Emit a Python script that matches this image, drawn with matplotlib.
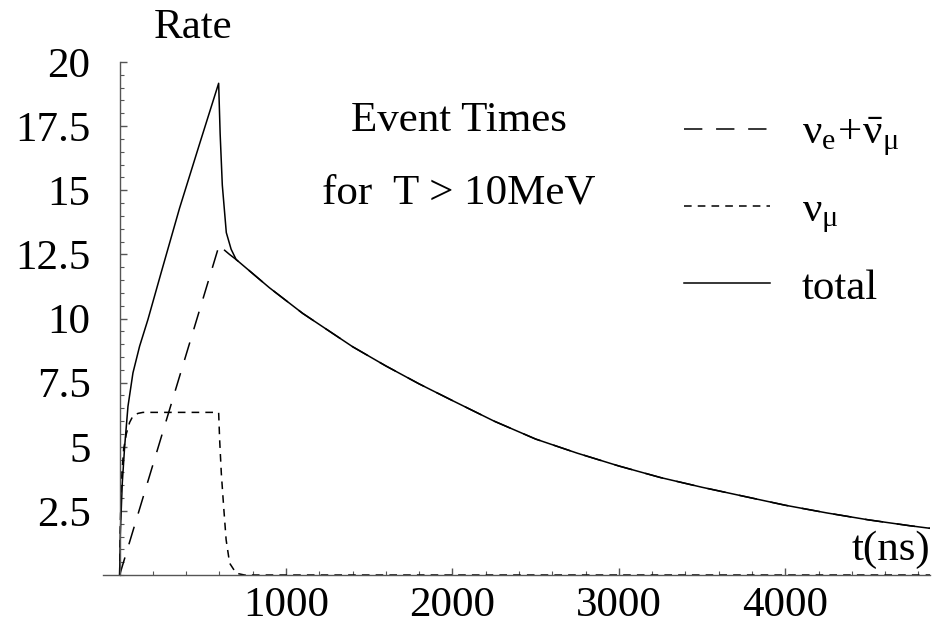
import matplotlib
matplotlib.use("Agg")
import matplotlib.pyplot as plt
from matplotlib.ticker import MultipleLocator, FixedLocator

# values (t in ns, rate)
t_total_rise = [0, 4, 16, 30, 50, 80, 120, 170, 250, 360, 480, 595, 604, 617, 641, 670]
rate_total_rise = [0, 1.6, 3.6, 5.0, 6.57, 7.88, 8.92, 9.96, 11.8, 14.3, 16.8, 19.17, 17.2, 15.2, 13.35, 12.7]

t_e_rise = [0, 600, 620, 660]
rate_e_rise = [0, 12.9, 12.72, 12.5]

t_decay = [700, 800, 900, 1000, 1100, 1250, 1400, 1600, 1800, 2000, 2250, 2500,
           2750, 3000, 3250, 3500, 3750, 4000, 4250, 4500, 4750, 4870]
rate_decay = [12.3, 11.75, 11.2, 10.7, 10.2, 9.55, 8.9, 8.15, 7.45, 6.8, 6.0, 5.3,
              4.75, 4.25, 3.8, 3.42, 3.07, 2.72, 2.42, 2.15, 1.92, 1.82]

t_mu = [0, 4, 12, 24, 40, 60, 80, 110, 140, 595, 601, 611, 625, 640, 661, 700, 750, 4870]
rate_mu = [0, 2.0, 3.8, 4.9, 5.5, 5.95, 6.2, 6.3, 6.34, 6.34, 5.27, 3.97, 2.67, 1.37, 0.46, 0.07, 0, 0]

x_major = [1000, 2000, 3000, 4000]
y_major = [2.5, 5, 7.5, 10, 12.5, 15, 17.5, 20]
y_labels = ["2.5", "5", "7.5", "10", "12.5", "15", "17.5", "20"]

plt.rcParams['font.family'] = ['Liberation Serif', 'DejaVu Serif']
plt.rcParams['mathtext.fontset'] = 'custom'
plt.rcParams['mathtext.rm'] = 'Liberation Serif'
plt.rcParams['mathtext.it'] = 'Liberation Serif:italic'
plt.rcParams['mathtext.default'] = 'rm'
fs = 31

fig = plt.figure(figsize=(9.44, 6.26), dpi=100)
ax = fig.add_axes([103/944, 51/626, 827/944, 513/626])

axis_col = '#555555'
l_e, = ax.plot(t_e_rise + t_decay, rate_e_rise + rate_decay, color='black', lw=1.1,
               dashes=(12, 9))
l_mu, = ax.plot(t_mu, rate_mu, color='black', lw=1.1, dashes=(5, 4))
l_tot, = ax.plot(t_total_rise + t_decay, rate_total_rise + rate_decay, color='black', lw=1.1)

ax.set_xlim(-100, 4870)
ax.set_ylim(0, 20)

for s in ['top', 'right']:
    ax.spines[s].set_visible(False)
ax.spines['left'].set_position(('data', 0))
ax.spines['bottom'].set_position(('data', 0))
ax.spines['left'].set_color(axis_col)
ax.spines['bottom'].set_color(axis_col)
ax.spines['left'].set_linewidth(1.0)
ax.spines['bottom'].set_linewidth(1.0)

ax.xaxis.set_major_locator(FixedLocator(x_major))
ax.xaxis.set_minor_locator(MultipleLocator(200))
ax.yaxis.set_major_locator(FixedLocator(y_major))
ax.set_yticklabels(y_labels)
ax.yaxis.set_minor_locator(MultipleLocator(0.5))
ax.tick_params(which='major', direction='in', length=5, width=1, color=axis_col, labelsize=fs)
ax.tick_params(which='minor', direction='in', length=3, width=0.8, color=axis_col)
ax.tick_params(axis='y', pad=21)
ax.tick_params(axis='x', pad=8)

ax.text(1.0, 0.012, "t(ns)", transform=ax.transAxes, ha='right', va='bottom', fontsize=fs)
fig.text(193/944, 1 - 28/626, "Rate", ha='center', va='center', fontsize=fs)

ax.text(0.43, 0.885, "Event Times", transform=ax.transAxes, ha='center', va='center', fontsize=fs)
ax.text(0.43, 0.745, "for  T > 10MeV", transform=ax.transAxes, ha='center', va='center', fontsize=fs)

ax.legend([l_e, l_mu, l_tot],
          [r'$\nu_{\mathrm{e}}\!+\!\bar{\nu}_{\mu}$', r'$\nu_{\mu}$', 'total'],
          loc='upper left', bbox_to_anchor=(662/944, 1 - 92/626),
          bbox_transform=fig.transFigure, frameon=False, fontsize=fs,
          handlelength=2.0, handletextpad=0.75, labelspacing=0.78, borderpad=0)

fig.savefig("out.png", dpi=100)
